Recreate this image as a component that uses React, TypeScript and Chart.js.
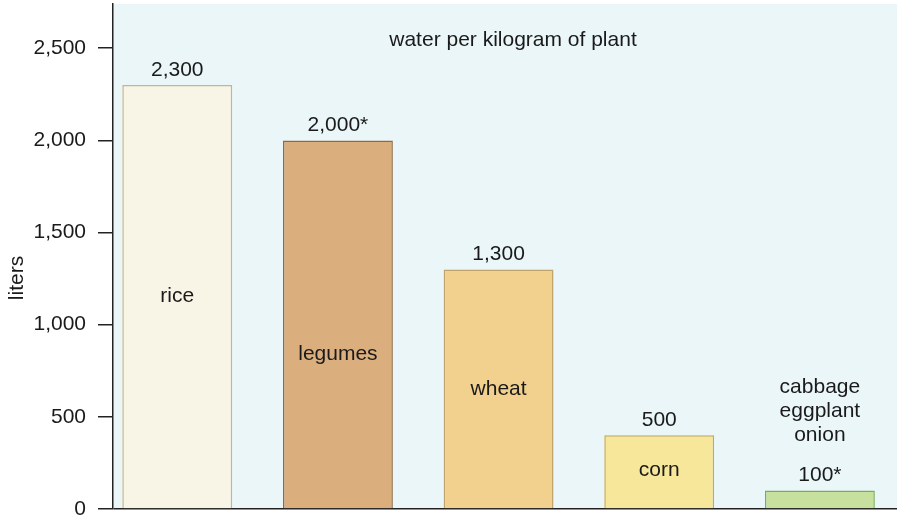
import React, { useEffect, useRef } from "react";
import { Chart, registerables } from "chart.js";

Chart.register(...registerables);

const CATEGORIES: string[][] = [["rice"], ["legumes"], ["wheat"], ["corn"], ["cabbage", "eggplant", "onion"]];
const LITERS: number[] = [2300, 2000, 1300, 400, 100];
const VALUE_LABELS: string[] = ["2,300", "2,000*", "1,300", "500", "100*"];
const Y_TICKS: number[] = [0, 500, 1000, 1500, 2000, 2500];
const CHART_TITLE = "water per kilogram of plant";
const Y_TITLE = "liters";

// styling (not data)
const FILLS = ["#F8F4E6", "#DBAE7E", "#F2D08E", "#F7E79B", "#C8E09E"];
const BORDERS = ["#C8B688", "#8E6A44", "#BFA36C", "#C9AA4C", "#74B05C"];
const NAME_SHIFT_PX = [0, 30, 0, -2, 0];

const FONT = '"Liberation Sans", Arial, Helvetica, sans-serif';
const TEXT = "#1a1a1a";

const decor = {
  id: "decor",
  beforeDraw(chart: any) {
    const { ctx, chartArea: a } = chart;
    ctx.save();
    ctx.fillStyle = "#EAF6F8";
    ctx.fillRect(a.left, a.top, a.right - a.left, a.bottom - a.top);
    ctx.restore();
  },
  afterDatasetsDraw(chart: any) {
    const ctx = chart.ctx;
    const a = chart.chartArea;
    const meta = chart.getDatasetMeta(0);
    ctx.save();
    ctx.font = `21px ${FONT}`;
    ctx.fillStyle = TEXT;
    ctx.textAlign = "center";
    ctx.textBaseline = "middle";
    const lh = 24;
    meta.data.forEach((bar: any, i: number) => {
      const { x, y, base } = bar.getProps(["x", "y", "base"], true);
      const vy = y - 15;
      ctx.fillText(VALUE_LABELS[i], x, vy);
      const lines = CATEGORIES[i];
      if (base - y > lines.length * lh + 10) {
        const mid = (y + base) / 2 + NAME_SHIFT_PX[i];
        lines.forEach((t, k) => ctx.fillText(t, x, mid + (k - (lines.length - 1) / 2) * lh));
      } else {
        lines.forEach((t, k) => ctx.fillText(t, x, vy - 40 - (lines.length - 1 - k) * lh));
      }
    });
    ctx.fillText(CHART_TITLE, (a.left + a.right) / 2 + 8, a.top + 36);
    ctx.translate(17, 278);
    ctx.rotate(-Math.PI / 2);
    ctx.fillText(Y_TITLE, 0, 0);
    ctx.restore();
  },
};

export default function App() {
  const ref = useRef<HTMLCanvasElement | null>(null);
  useEffect(() => {
    if (!ref.current) return;
    const chart = new Chart(ref.current, {
      type: "bar",
      data: {
        datasets: [
          {
            data: LITERS.map((v, i) => ({ x: i, y: v })),
            backgroundColor: FILLS,
            borderColor: BORDERS,
            borderWidth: 1.5,
            barPercentage: 0.684,
            categoryPercentage: 1,
          },
        ],
      },
      options: {
        responsive: false,
        animation: false,
        layout: { padding: { top: 4, bottom: 14, left: 0, right: 0 } },
        plugins: { legend: { display: false }, tooltip: { enabled: false }, title: { display: false } },
        scales: {
          x: {
            type: "linear",
            min: -0.4,
            max: 4.48,
            offset: false,
            display: false,
            grid: { offset: false },
            afterBuildTicks: (s: any) => {
              s.ticks = CATEGORIES.map((_, i) => ({ value: i }));
            },
          },
          y: {
            type: "linear",
            min: 0,
            max: 2740,
            afterFit: (s: any) => {
              s.width = 113;
              s.paddingTop = 0;
              s.paddingBottom = 0;
            },
            afterBuildTicks: (s: any) => {
              s.ticks = Y_TICKS.map((v) => ({ value: v }));
            },
            border: { display: true, color: "#222", width: 1.5 },
            grid: {
              drawOnChartArea: true,
              color: (c: any) => (c.tick && c.tick.value === 0 ? "#222" : "rgba(0,0,0,0)"),
              lineWidth: 1.5,
              tickLength: 15,
              tickColor: "#222",
              tickWidth: 1.5,
            },
            ticks: {
              padding: 12,
              color: TEXT,
              font: { family: FONT, size: 21 },
              callback: (v: any) => Number(v).toLocaleString("en-US"),
            },
          },
        },
      },
      plugins: [decor],
    } as any);
    return () => chart.destroy();
  }, []);
  return (
    <div style={{ position: "absolute", left: 0, top: 0, width: 897, height: 523 }}>
      <canvas ref={ref} width={897} height={523} style={{ width: 897, height: 523, display: "block" }} />
    </div>
  );
}
